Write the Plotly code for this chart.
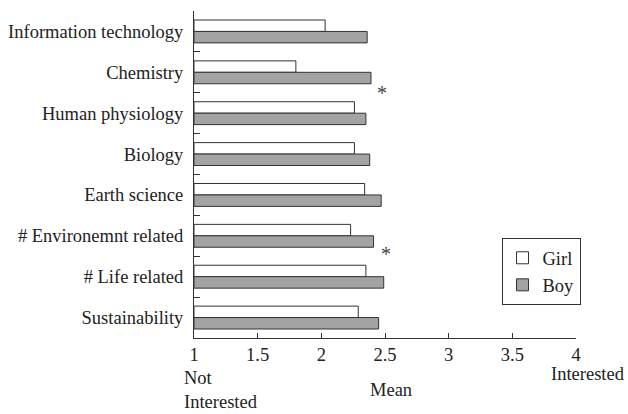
import plotly.graph_objects as go

categories = ["Information technology", "Chemistry", "Human physiology", "Biology",
              "Earth science", "# Environemnt related", "# Life related", "Sustainability"]
girl = [2.03, 1.80, 2.26, 2.26, 2.34, 2.23, 2.35, 2.29]
boy = [2.36, 2.39, 2.35, 2.38, 2.47, 2.41, 2.49, 2.45]
x_ticks = [1, 1.5, 2, 2.5, 3, 3.5, 4]
x_tick_labels = ["1", "1.5", "2", "2.5", "3", "3.5", "4"]
axis_start = 1

FONT = "Liberation Serif, Times New Roman, serif"
FS = 18.5

fig = go.Figure()
fig.add_trace(go.Bar(y=categories, x=[g - axis_start for g in girl], base=axis_start,
                     name="Girl", orientation="h",
                     marker=dict(color="white", line=dict(color="#333333", width=1))))
fig.add_trace(go.Bar(y=categories, x=[b - axis_start for b in boy], base=axis_start,
                     name="Boy", orientation="h",
                     marker=dict(color="#a3a3a3", line=dict(color="#333333", width=1))))

fig.update_layout(
    width=628, height=414,
    margin=dict(l=194, r=52, t=11, b=76, autoexpand=False),
    paper_bgcolor="white", plot_bgcolor="white",
    barmode="group", bargap=0.44, bargroupgap=0,
    font=dict(family=FONT, size=FS, color="#222222"),
    showlegend=True,
    legend=dict(x=0.805, y=0.305, xanchor="left", yanchor="top",
                bordercolor="#333333", borderwidth=1, bgcolor="white",
                font=dict(family=FONT, size=FS), traceorder="normal",
                itemwidth=30),
    xaxis=dict(range=[1, 4], tickvals=x_ticks, ticktext=x_tick_labels,
               showgrid=False, zeroline=False, showline=True, linecolor="#333333",
               linewidth=1, ticks="inside", ticklen=5, tickcolor="#333333",
               tickfont=dict(family=FONT, size=FS)),
    yaxis=dict(categoryorder="array", categoryarray=categories, autorange="reversed",
               showgrid=False, zeroline=False, showline=True, linecolor="#333333",
               linewidth=1, ticks="inside", ticklen=6, tickcolor="#333333",
               tickson="boundaries", ticklabelstandoff=6,
               tickfont=dict(family=FONT, size=FS)),
)

fig.add_annotation(text="Not<br>Interested", xref="paper", yref="paper",
                   x=-0.0314, y=-0.159, xanchor="left", yanchor="middle",
                   align="left", showarrow=False, font=dict(family=FONT, size=FS))
fig.add_annotation(text="Mean", xref="paper", yref="paper",
                   x=0.516, y=-0.159, xanchor="center", yanchor="middle",
                   showarrow=False, font=dict(family=FONT, size=FS))
fig.add_annotation(text="Interested", xref="paper", yref="paper",
                   x=1.1335, y=-0.11, xanchor="right", yanchor="middle",
                   showarrow=False, font=dict(family=FONT, size=FS))
fig.add_annotation(text="*", xref="x", yref="y", x=2.477, y=1.5,
                   showarrow=False, font=dict(family=FONT, size=20, color="#444444"))
fig.add_annotation(text="*", xref="x", yref="y", x=2.51, y=5.45,
                   showarrow=False, font=dict(family=FONT, size=20, color="#444444"))

fig.write_html("out.html", config={"displayModeBar": False},
               post_script="document.body.style.margin='0';document.body.style.overflow='hidden';")
